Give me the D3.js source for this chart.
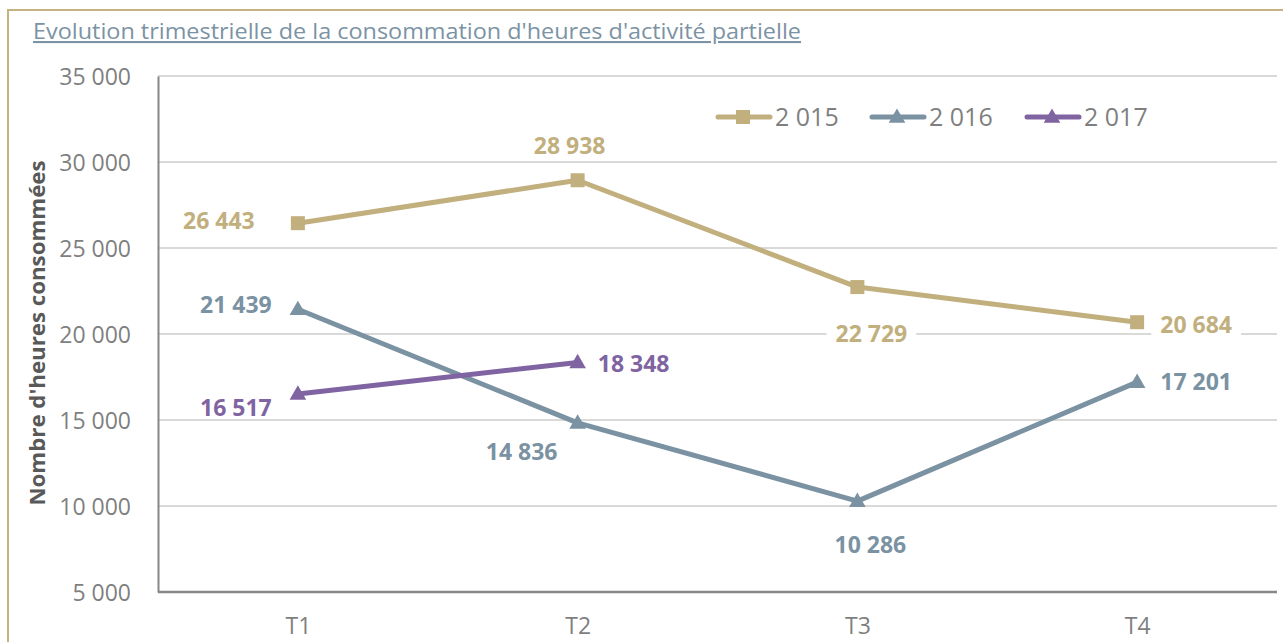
<!DOCTYPE html>
<html>
<head>
<meta charset="utf-8">
<script src="https://cdn.jsdelivr.net/npm/d3@7"></script>
<style>
  html, body { margin: 0; padding: 0; background: #ffffff; }
  svg { display: block; }
  text { font-family: "Open Sans", "Noto Sans", sans-serif; }
</style>
</head>
<body>
<svg id="chart" width="1283" height="642"></svg>
<script>
// ---- Data ----
const categories = ["T1", "T2", "T3", "T4"];
const seriesNames = ["2 015", "2 016", "2 017"];
const values2015 = [26443, 28938, 22729, 20684];
const values2016 = [21439, 14836, 10286, 17201];
const values2017 = [16517, 18348];
const yTickValues = [5000, 10000, 15000, 20000, 25000, 30000, 35000];
const titleText = "Evolution trimestrielle de la consommation d'heures d'activité partielle";
const yAxisTitle = "Nombre d'heures consommées";

// ---- Presentation (not data) ----
const colors = ["#C2AF7E", "#7A92A2", "#8064A2"];
const markers = ["square", "triangle", "triangle"];
const labelFilled = [true, true, false];
// label offsets from their point, in px
const labelOffsets = [
  [[-79, -2], [-8, -35], [14, 47], [59, 2]],
  [[-62, -5], [-56, 29], [13, 44], [59, 0]],
  [[-62, 14], [56, 1]]
];

const locale = d3.formatLocale({ decimal: ",", thousands: "\u00a0", grouping: [3], currency: ["", " €"] });
const fmt = locale.format(",d");

const svg = d3.select("#chart");
const W = 1283, H = 642;
const plot = { left: 158, right: 1277, top: 76, bottom: 592 };

// Outer frame
svg.append("rect")
  .attr("x", 8).attr("y", 10)
  .attr("width", W + 20).attr("height", H + 20)
  .attr("fill", "#ffffff")
  .attr("stroke", "#C4B283").attr("stroke-width", 2);

// Title
svg.append("text")
  .attr("x", 33).attr("y", 39)
  .attr("textLength", 768).attr("lengthAdjust", "spacingAndGlyphs")
  .style("font-size", "21px").style("font-weight", 400)
  .style("text-decoration", "underline")
  .attr("fill", "#7B93A4")
  .text(titleText);

const x = d3.scalePoint().domain(categories).range([plot.left, plot.right]).padding(0.5);
const y = d3.scaleLinear().domain([5000, 35000]).range([plot.bottom, plot.top]);

// Gridlines
svg.append("g").selectAll("line")
  .data(yTickValues.filter(v => v > 5000))
  .join("line")
  .attr("x1", plot.left).attr("x2", plot.right)
  .attr("y1", d => y(d)).attr("y2", d => y(d))
  .attr("stroke", "#D9D9D9").attr("stroke-width", 2);

// Y axis
const yAxis = svg.append("g")
  .attr("transform", `translate(${plot.left},0)`)
  .call(d3.axisLeft(y).tickValues(yTickValues).tickSize(0).tickPadding(27).tickFormat(d => fmt(d)));
yAxis.select(".domain").attr("stroke", "#878787").attr("stroke-width", 2);
yAxis.selectAll("text")
  .style("font-size", "23px").attr("fill", "#7F7F7F")
  .attr("dy", "0.36em");

// X axis
const xAxis = svg.append("g")
  .attr("transform", `translate(0,${plot.bottom})`)
  .call(d3.axisBottom(x).tickSize(0).tickSizeOuter(0));
xAxis.select(".domain").attr("stroke", "#878787").attr("stroke-width", 2.5)
  .attr("d", `M${plot.left},0H${plot.right}`);
xAxis.selectAll("text")
  .style("font-size", "23px").attr("fill", "#7F7F7F")
  .attr("y", 34).attr("dy", "0.36em");

// Y axis title
svg.append("text")
  .attr("transform", "translate(37,333) rotate(-90)")
  .attr("text-anchor", "middle").attr("dy", "0.36em")
  .attr("textLength", 345).attr("lengthAdjust", "spacingAndGlyphs")
  .style("font-size", "22px").style("font-weight", 700)
  .attr("fill", "#595959")
  .text(yAxisTitle);

// Series
const allSeries = [values2015, values2016, values2017];
const line = d3.line().x((d, i) => x(categories[i])).y(d => y(d));

function drawMarker(g, type, cx, cy, color) {
  if (type === "square") {
    g.append("rect").attr("x", cx - 7).attr("y", cy - 7)
      .attr("width", 14).attr("height", 14).attr("fill", color);
  } else {
    g.append("path")
      .attr("d", d3.symbol().type(d3.symbolTriangle).size(120)())
      .attr("transform", `translate(${cx},${cy + 1})`)
      .attr("fill", color);
  }
}

const seriesG = svg.append("g");
allSeries.forEach((vals, s) => {
  seriesG.append("path")
    .datum(vals)
    .attr("d", line)
    .attr("fill", "none")
    .attr("stroke", colors[s]).attr("stroke-width", 5)
    .attr("stroke-linejoin", "round").attr("stroke-linecap", "round");
});
allSeries.forEach((vals, s) => {
  vals.forEach((v, i) => drawMarker(seriesG, markers[s], x(categories[i]), y(v), colors[s]));
});

// Data labels
const labelG = svg.append("g");
allSeries.forEach((vals, s) => {
  vals.forEach((v, i) => {
    const cx = x(categories[i]) + labelOffsets[s][i][0];
    const cy = y(v) + labelOffsets[s][i][1];
    const g = labelG.append("g");
    const bg = g.append("rect").attr("fill", labelFilled[s] ? "#ffffff" : "none");
    const t = g.append("text")
      .attr("x", cx).attr("y", cy)
      .attr("text-anchor", "middle").attr("dy", "0.36em")
      .style("font-size", "23px").style("font-weight", 700)
      .attr("fill", colors[s])
      .text(fmt(v));
    const w = t.node().getComputedTextLength();
    bg.attr("x", cx - w / 2 - 9).attr("y", cy - 15)
      .attr("width", w + 18).attr("height", 30);
  });
});

// Legend
const legendX = [716, 870, 1025];
const legendY = 117;
const legend = svg.append("g");
seriesNames.forEach((name, s) => {
  const lx = legendX[s];
  legend.append("line")
    .attr("x1", lx + 2).attr("x2", lx + 54)
    .attr("y1", legendY).attr("y2", legendY)
    .attr("stroke", colors[s]).attr("stroke-width", 5).attr("stroke-linecap", "round");
  drawMarker(legend, markers[s], lx + 27, legendY, colors[s]);
  legend.append("text")
    .attr("x", lx + 59).attr("y", legendY)
    .attr("dy", "0.36em")
    .style("font-size", "25px").attr("fill", "#7F7F7F")
    .text(name);
});
</script>
</body>
</html>
